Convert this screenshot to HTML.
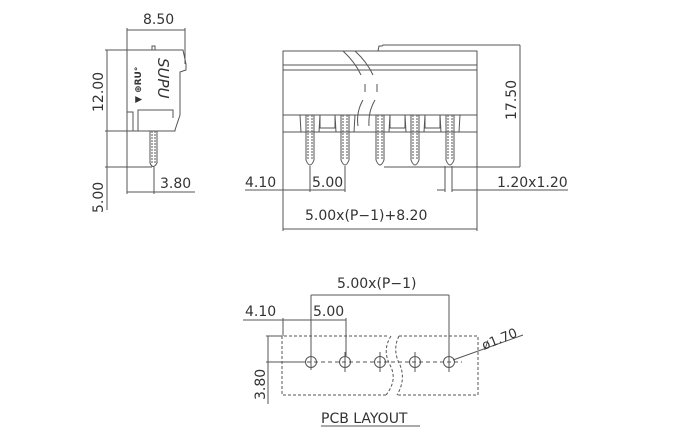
<!DOCTYPE html>
<html><head><style>
html,body{margin:0;padding:0;background:#fff;}
svg{display:block;}
text{font-family:"DejaVu Sans","Liberation Sans",sans-serif;font-size:14px;fill:#333;}
</style></head><body>
<svg width="680" height="440" viewBox="0 0 680 440" xmlns="http://www.w3.org/2000/svg">
<g stroke="#555" stroke-width="1" fill="none">
<!-- side view -->
<path d="M127,131 L127,50 L183,50 L186,64 L186,70 L180,72 L180,115 L175,130 L175,131 Z"/>
<path d="M133,131 L133,112 L127,112"/>
<path d="M138,131 L138,110 L173,110 L173,118"/>
<path d="M150,131 L150,163 Q153,170 157,163 L157,131"/>
<line x1="152" y1="131" x2="152" y2="163" stroke-dasharray="2,1"/>
<line x1="155" y1="131" x2="155" y2="163" stroke-dasharray="2,1"/>
<path d="M152,50 L152,46 L155,46 L155,50"/>
<line x1="127" y1="30" x2="185" y2="30"/>
<line x1="127" y1="28" x2="127" y2="50"/>
<line x1="185" y1="28" x2="185" y2="64"/>
<line x1="107" y1="50" x2="107" y2="210"/>
<line x1="105" y1="50" x2="127" y2="50"/>
<line x1="105" y1="131" x2="127" y2="131"/>
<line x1="105" y1="167" x2="152" y2="167"/>
<line x1="127" y1="131" x2="127" y2="194"/>
<line x1="154" y1="167" x2="154" y2="194"/>
<line x1="127" y1="192" x2="195" y2="192"/>
<!-- front view -->
<rect x="283" y="51" width="194" height="81"/>
<line x1="283" y1="65" x2="477" y2="65"/>
<line x1="283" y1="70" x2="477" y2="70"/>
<line x1="283" y1="115" x2="477" y2="115"/>
<path d="M378,51 L379,46 L382,46 L383,45 L520,45"/>
<path d="M343,51 Q355,62 361,75"/>
<path d="M355,51 Q367,62 373,75"/>
<path d="M363,100 Q356,112 358,126"/>
<path d="M375,100 Q368,112 369,126"/>
<line x1="365" y1="84" x2="365" y2="92"/>
<line x1="377" y1="84" x2="377" y2="92"/>
<path d="M306,115 L306,160 Q310,170 314,160 L314,115"/>
<path d="M341,115 L341,160 Q345,170 349,160 L349,115"/>
<path d="M376,115 L376,160 Q380,170 384,160 L384,115"/>
<path d="M411,115 L411,160 Q415,170 419,160 L419,115"/>
<path d="M446,115 L446,160 Q450,170 454,160 L454,115"/>
<g stroke-dasharray="2,1">
<line x1="308" y1="115" x2="308" y2="160"/><line x1="312" y1="115" x2="312" y2="160"/>
<line x1="343" y1="115" x2="343" y2="160"/><line x1="347" y1="115" x2="347" y2="160"/>
<line x1="378" y1="115" x2="378" y2="160"/><line x1="382" y1="115" x2="382" y2="160"/>
<line x1="413" y1="115" x2="413" y2="160"/><line x1="417" y1="115" x2="417" y2="160"/>
<line x1="448" y1="115" x2="448" y2="160"/><line x1="452" y1="115" x2="452" y2="160"/>
</g>
<path d="M300,115 L301,132 M320,115 L319,132 M335,115 L336,132 M355,115 L354,132 M390,115 L389,132 M405,115 L406,132 M425,115 L424,132 M440,115 L441,132 M460,115 L459,132"/>
<path d="M320,115 L320,128 L335,128 L335,115 M390,115 L390,128 L405,128 L405,115 M425,115 L425,128 L440,128 L440,115"/>
<line x1="520" y1="45" x2="520" y2="167"/>
<line x1="384" y1="167" x2="520" y2="167"/>
<line x1="283" y1="132" x2="283" y2="231"/>
<line x1="477" y1="132" x2="477" y2="231"/>
<line x1="310" y1="166" x2="310" y2="192"/>
<line x1="345" y1="166" x2="345" y2="192"/>
<line x1="445" y1="166" x2="445" y2="192"/>
<line x1="452" y1="166" x2="452" y2="192"/>
<line x1="245" y1="190" x2="345" y2="190"/>
<line x1="437" y1="190" x2="445" y2="190"/>
<line x1="452" y1="190" x2="568" y2="190"/>
<line x1="283" y1="229" x2="477" y2="229"/>
<!-- PCB -->
<path d="M387,336 L282,336 L282,395 L386,395" stroke-dasharray="3,2"/>
<path d="M399,336 L478,336 L478,395 L397,395" stroke-dasharray="3,2"/>
<path d="M391,336 Q382,350 390,365 Q398,380 386,395" stroke-dasharray="3,2"/>
<path d="M399,336 Q392,350 400,365 Q406,380 397,395" stroke-dasharray="3,2"/>
<circle cx="311" cy="362" r="5.5"/>
<circle cx="345" cy="362" r="5.5"/>
<circle cx="380" cy="362" r="5.5"/>
<circle cx="415" cy="362" r="5.5"/>
<circle cx="449" cy="362" r="5.5"/>
<line x1="300" y1="362" x2="462" y2="362" stroke-dasharray="4,3"/>
<path d="M311,354 L311,370 M345,352 L345,372 M380,352 L380,372 M415,352 L415,372 M449,352 L449,372"/>
<line x1="311" y1="295" x2="449" y2="295"/>
<line x1="311" y1="295" x2="311" y2="356"/>
<line x1="449" y1="295" x2="449" y2="356"/>
<line x1="243" y1="320" x2="346" y2="320"/>
<line x1="283" y1="318" x2="283" y2="336"/>
<line x1="346" y1="318" x2="346" y2="356"/>
<line x1="268" y1="336" x2="268" y2="404"/>
<line x1="266" y1="336" x2="282" y2="336"/>
<line x1="266" y1="362" x2="305" y2="362"/>
<line x1="453" y1="360" x2="523" y2="335"/>
<line x1="321" y1="426" x2="420" y2="426"/>
</g>
<g>
<text x="143" y="24">8.50</text>
<text transform="translate(103,112) rotate(-90)">12.00</text>
<text transform="translate(103,213) rotate(-90)">5.00</text>
<text x="160" y="188">3.80</text>
<text x="245" y="187">4.10</text>
<text x="312" y="187">5.00</text>
<text x="497" y="187">1.20x1.20</text>
<text x="305" y="220">5.00x(P−1)+8.20</text>
<text transform="translate(516,120) rotate(-90)">17.50</text>
<text x="337" y="288">5.00x(P−1)</text>
<text x="245" y="316">4.10</text>
<text x="313" y="316">5.00</text>
<text transform="translate(265,400) rotate(-90)">3.80</text>
<text transform="translate(484,350) rotate(-22)" style="font-size:13px">ø1.70</text>
<text x="321" y="423">PCB LAYOUT</text>
<text transform="translate(141,103) rotate(-90)" style="font-size:9px;font-weight:bold">▼ ⊕RU°</text>
<text transform="translate(158,58) rotate(90)" style="font-size:15px;font-style:italic">SUPU</text>
</g>
</svg>
</body></html>
